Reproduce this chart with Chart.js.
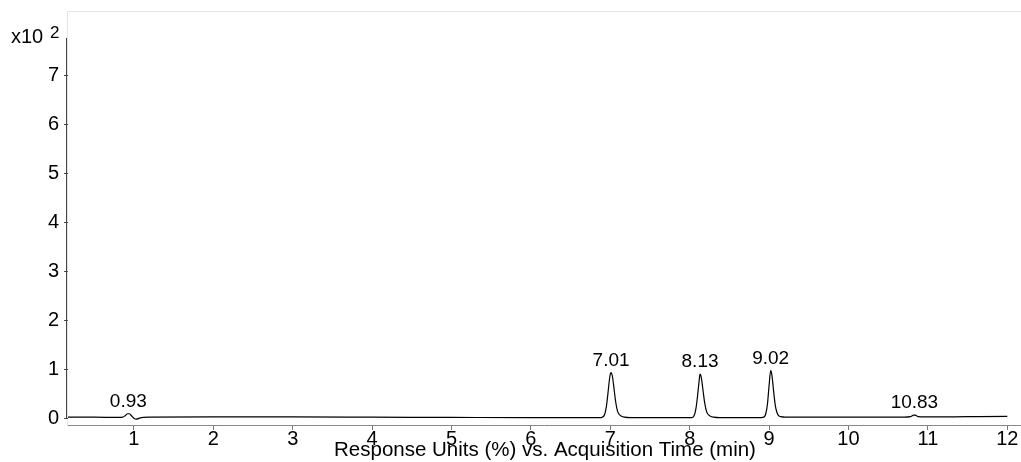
<!DOCTYPE html>
<html><head><meta charset="utf-8">
<script src="https://cdn.jsdelivr.net/npm/chart.js@4/dist/chart.umd.min.js"></script>
<style>html,body{margin:0;padding:0;background:#fff}#wrap{width:1021px;height:462px;position:relative}canvas{display:block}</style>
</head><body><div id="wrap"><canvas id="c" width="1021" height="462" style="width:1021px;height:462px"></canvas></div>
<script>
// Acquisition time (min)
const times = [0.17, 0.50, 0.80, 0.86, 0.89, 0.92, 0.94, 0.97, 1.00, 1.03, 1.07, 1.12, 1.20,
  2.00, 3.00, 4.00, 5.00, 6.00, 6.50, 6.86, 6.90, 6.93, 6.95, 6.97, 6.99, 7.00, 7.01, 7.02, 7.03,
  7.05, 7.07, 7.09, 7.11, 7.14, 7.18, 7.25, 7.50, 7.80, 8.00, 8.04, 8.06, 8.08, 8.10, 8.12, 8.13,
  8.14, 8.15, 8.17, 8.19, 8.21, 8.23, 8.26, 8.30, 8.38, 8.60, 8.90, 8.94, 8.96, 8.98, 9.00, 9.02,
  9.03, 9.04, 9.06, 9.08, 9.10, 9.12, 9.15, 9.20, 9.50, 10.00, 10.50, 10.70, 10.78, 10.82, 10.84,
  10.88, 10.95, 11.50, 12.00];
// Response (x10^2)
const responses = [0.02, 0.02, 0.015, 0.02, 0.05, 0.09, 0.09, 0.05, 0.00, -0.02, 0.00, 0.015, 0.02,
  0.025, 0.025, 0.02, 0.015, 0.01, 0.01, 0.01, 0.02, 0.08, 0.23, 0.50, 0.80, 0.90, 0.93, 0.90, 0.82,
  0.56, 0.31, 0.15, 0.08, 0.04, 0.02, 0.01, 0.01, 0.01, 0.01, 0.02, 0.07, 0.21, 0.47, 0.78, 0.90,
  0.87, 0.79, 0.54, 0.30, 0.15, 0.08, 0.04, 0.02, 0.01, 0.01, 0.01, 0.03, 0.10, 0.30, 0.67, 0.97,
  0.93, 0.82, 0.50, 0.24, 0.11, 0.05, 0.03, 0.02, 0.02, 0.02, 0.02, 0.02, 0.03, 0.06, 0.06,
  0.03, 0.025, 0.03, 0.035];
const xTickValues = [1, 2, 3, 4, 5, 6, 7, 8, 9, 10, 11, 12];
const yTickValues = [0, 1, 2, 3, 4, 5, 6, 7];
const peakTimes = [0.93, 7.01, 8.13, 9.02, 10.83];
const peakHeights = [0.09, 0.93, 0.90, 0.97, 0.06];
const peakLabels = ['0.93', '7.01', '8.13', '9.02', '10.83'];
const xTitle = 'Response Units (%) vs. Acquisition Time (min)';
const yMultiplier = 'x10';
const yExponent = '2';

const FONT = 'Arial, "Liberation Sans", Helvetica, sans-serif';

const decor = {
  id: 'decor',
  beforeDraw(chart) {
    const ctx = chart.ctx, a = chart.chartArea;
    ctx.save();
    ctx.strokeStyle = '#e4e4e4';
    ctx.lineWidth = 1;
    ctx.beginPath();
    ctx.moveTo(67.5, a.bottom);
    ctx.lineTo(67.5, 11.5);
    ctx.lineTo(1021, 11.5);
    ctx.stroke();
    ctx.restore();
  },
  afterDraw(chart) {
    const ctx = chart.ctx, a = chart.chartArea;
    const xs = chart.scales.x, ys = chart.scales.y;
    ctx.save();
    ctx.strokeStyle = '#444';
    ctx.lineWidth = 1;
    ctx.beginPath();
    ctx.moveTo(66.5, a.top);
    ctx.lineTo(66.5, Math.round(ys.getPixelForValue(0)) + 0.5);
    ctx.stroke();
    ctx.strokeStyle = '#888';
    ctx.beginPath();
    ctx.moveTo(a.left, a.bottom - 0.5);
    ctx.lineTo(1021, a.bottom - 0.5);
    ctx.stroke();
    ctx.fillStyle = '#000';
    ctx.textBaseline = 'alphabetic';
    ctx.font = '20px ' + FONT;
    ctx.textAlign = 'left';
    ctx.fillText(yMultiplier, 11, 43);
    ctx.font = '17px ' + FONT;
    ctx.fillText(yExponent, 50, 38);
    ctx.font = '20.5px ' + FONT;
    ctx.textAlign = 'center';
    ctx.fillText(xTitle, 545, 456);
    ctx.font = '19px ' + FONT;
    peakTimes.forEach((t, i) => {
      const px = xs.getPixelForValue(t);
      const py = ys.getPixelForValue(peakHeights[i]);
      ctx.fillText(peakLabels[i], px, py - 7);
    });
    ctx.restore();
  }
};

new Chart(document.getElementById('c'), {
  type: 'line',
  data: {
    datasets: [{
      data: times.map((t, i) => ({x: t, y: responses[i]})),
      borderColor: '#000',
      borderWidth: 1.2,
      pointRadius: 0,
      fill: false,
      cubicInterpolationMode: 'monotone'
    }]
  },
  options: {
    responsive: false,
    animation: false,
    devicePixelRatio: 1,
    layout: {padding: {top: 38, right: 1, left: 0, bottom: 0}},
    plugins: {legend: {display: false}, tooltip: {enabled: false}},
    scales: {
      x: {
        type: 'linear', min: 0.17, max: 12.16,
        afterFit(s) { s.height = 36; },
        afterBuildTicks(s) { s.ticks = xTickValues.map(v => ({value: v})); },
        border: {display: false},
        grid: {drawOnChartArea: false, drawTicks: true, tickLength: 4, color: '#777'},
        ticks: {color: '#000', font: {size: 20, family: FONT}, padding: -3, maxRotation: 0, autoSkip: false}
      },
      y: {
        type: 'linear', min: -0.16, max: 7.76,
        afterFit(s) { s.width = 68; },
        afterBuildTicks(s) { s.ticks = yTickValues.map(v => ({value: v})); },
        border: {display: false},
        grid: {drawOnChartArea: false, drawTicks: true, tickLength: 4, color: '#444'},
        ticks: {color: '#000', font: {size: 20, family: FONT}, padding: 5, autoSkip: false}
      }
    }
  },
  plugins: [decor]
});
</script>
</body></html>
